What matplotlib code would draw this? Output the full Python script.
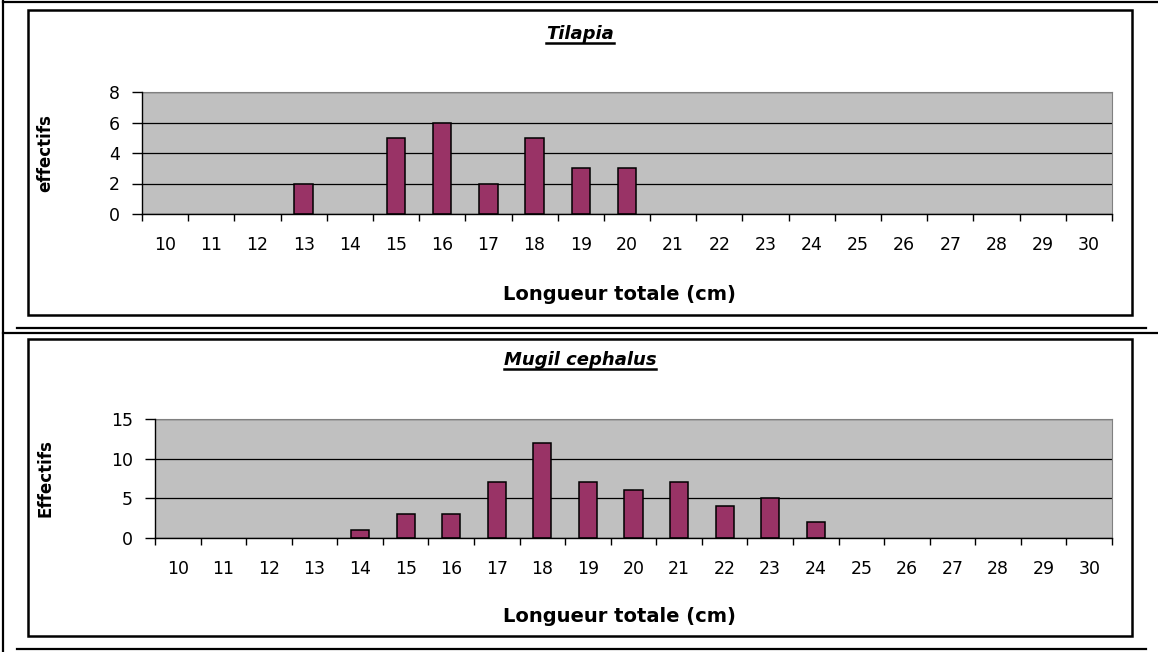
import matplotlib.pyplot as plt
from matplotlib.lines import Line2D
from matplotlib.patches import Rectangle

plt.rcParams['font.family'] = 'DejaVu Sans'

# length classes (cm) and counts per class
lengths = list(range(10, 31))
tilapia = [0, 0, 0, 2, 0, 5, 6, 2, 5, 3, 3, 0, 0, 0, 0, 0, 0, 0, 0, 0, 0]
mugil = [0, 0, 0, 0, 1, 3, 3, 7, 12, 7, 6, 7, 4, 5, 2, 0, 0, 0, 0, 0, 0]

titles = ['Tilapia', 'Mugil cephalus']
ylabels = ['effectifs', 'Effectifs']
yticks = [[0, 2, 4, 6, 8], [0, 5, 10, 15]]
xlabel = 'Longueur totale (cm)'

W, H = 1158, 652
fig = plt.figure(figsize=(W / 100, H / 100), dpi=100)


def fx(px):
    return px / W


def fy(py):
    return 1 - py / H


def hline(y, x0, x1, lw=1.6):
    fig.add_artist(Line2D([fx(x0), fx(x1)], [fy(y), fy(y)], color='black',
                          lw=lw, transform=fig.transFigure))


# table borders around the two charts
fig.add_artist(Line2D([fx(3), fx(3)], [0, 1], color='black', lw=1.6,
                      transform=fig.transFigure))
hline(2, 3, 1158)
hline(328, 17, 1146)
hline(333, 3, 1158)
hline(649, 17, 1146)


def draw_chart(frame, area, counts, title, ylab, ticks, title_y, xlab_y):
    fx0, fy0, fx1, fy1 = frame
    fig.add_artist(Rectangle((fx(fx0), fy(fy1)), fx(fx1) - fx(fx0),
                             fy(fy0) - fy(fy1), fill=False, ec='black',
                             lw=1.8, transform=fig.transFigure))
    x0, y0, x1, y1 = area
    ax = fig.add_axes([fx(x0), fy(y1), fx(x1) - fx(x0), fy(y0) - fy(y1)])
    ax.set_facecolor('#C0C0C0')
    # empty classes get no bar at all
    xs = [v for v, c in zip(lengths, counts) if c > 0]
    hs = [c for c in counts if c > 0]
    ax.bar(xs, hs, width=0.4, color='#993366', edgecolor='black',
           linewidth=1.1, zorder=3)
    ax.set_xlim(lengths[0] - 0.5, lengths[-1] + 0.5)
    ax.set_ylim(ticks[0], ticks[-1])
    ax.set_yticks(ticks)
    ax.set_xticks(lengths)
    ax.set_xticks([v - 0.5 for v in lengths] + [lengths[-1] + 0.5], minor=True)
    ax.tick_params(axis='x', which='major', length=0, pad=16, labelsize=12.5)
    ax.tick_params(axis='x', which='minor', length=5, width=1, direction='out')
    ax.tick_params(axis='y', length=7, width=1, direction='out', pad=9,
                   labelsize=12.5)
    ax.grid(axis='y', color='black', lw=0.9, zorder=1)
    ax.spines['top'].set_color('#808080')
    ax.spines['right'].set_color('#808080')
    for s in ('left', 'bottom'):
        ax.spines[s].set_color('black')
        ax.spines[s].set_linewidth(1.0)
        ax.spines[s].set_zorder(4)

    t = fig.text(fx(580), fy(title_y), title, ha='center', va='center',
                 fontsize=13, fontweight='bold', fontstyle='italic')
    fig.text(fx(619), fy(xlab_y), xlabel, ha='center', va='center',
             fontsize=14, fontweight='bold')
    fig.text(fx(45), fy((y0 + y1) / 2), ylab, ha='center', va='center',
             rotation=90, fontsize=12, fontweight='bold')
    return t


t1 = draw_chart((28, 10, 1132, 315), (142, 92, 1112, 214), tilapia,
                titles[0], ylabels[0], yticks[0], 34, 295)
t2 = draw_chart((28, 339, 1132, 636), (155, 419, 1112, 538), mugil,
                titles[1], ylabels[1], yticks[1], 360, 617)

# underline the species names
fig.canvas.draw()
inv = fig.transFigure.inverted()
for t in (t1, t2):
    bb = t.get_window_extent()
    (a, b), (c, d) = inv.transform([(bb.x0, bb.y0), (bb.x1, bb.y0)])
    fig.add_artist(Line2D([a, c], [b, d], color='black', lw=1.8,
                          transform=fig.transFigure))

fig.savefig('out.png', dpi=100)
